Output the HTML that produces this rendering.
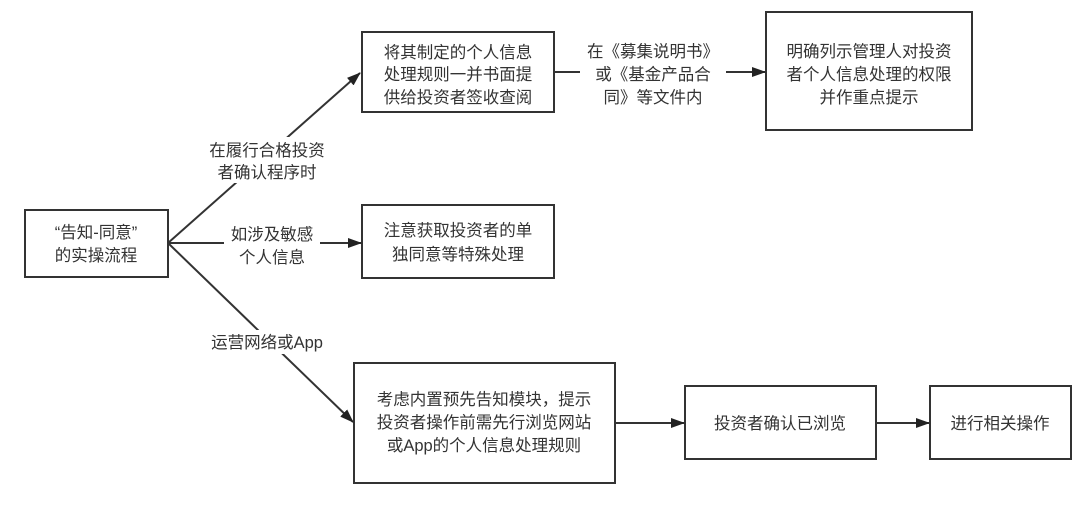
<!DOCTYPE html>
<html><head><meta charset="utf-8"><style>
html,body{margin:0;padding:0;background:#fff;}
svg text{font-family:"Liberation Sans","Noto Sans CJK SC",sans-serif;font-size:16.5px;fill:#333;text-anchor:middle;}
</style></head><body>
<svg width="1080" height="506" viewBox="0 0 1080 506" xmlns="http://www.w3.org/2000/svg">
<defs><marker id="a" markerWidth="14" markerHeight="10" refX="13" refY="5" orient="auto" markerUnits="userSpaceOnUse"><path d="M0,0 L14,5 L0,10 z" fill="#222"/></marker></defs>
<g fill="none" stroke="#333" stroke-width="2">
<rect x="25" y="210" width="143" height="67"/>
<rect x="362" y="32" width="192" height="80"/>
<rect x="766" y="12" width="206" height="118"/>
<rect x="362" y="205" width="192" height="73"/>
<rect x="354" y="363" width="261" height="120"/>
<rect x="685" y="386" width="191" height="73"/>
<rect x="930" y="386" width="141" height="73"/>
</g>
<g stroke="#333" stroke-width="2" fill="none">
<line x1="168" y1="243" x2="360" y2="73" marker-end="url(#a)"/>
<line x1="168" y1="243" x2="361" y2="243" marker-end="url(#a)"/>
<line x1="168" y1="243" x2="353" y2="422" marker-end="url(#a)"/>
<line x1="554" y1="72" x2="765" y2="72" marker-end="url(#a)"/>
<line x1="615" y1="423" x2="684" y2="423" marker-end="url(#a)"/>
<line x1="876" y1="423" x2="929" y2="423" marker-end="url(#a)"/>
</g>
<g fill="#fff">
<rect x="198" y="137" width="138" height="46"/>
<rect x="224" y="224" width="96" height="42"/>
<rect x="198" y="330" width="138" height="24"/>
<rect x="580" y="40" width="146" height="66"/>
</g>
<text x="96" y="238">“告知-同意”</text><text x="96" y="261">的实操流程</text>
<text x="458" y="58">将其制定的个人信息</text><text x="458" y="80">处理规则一并书面提</text><text x="458" y="103">供给投资者签收查阅</text>
<text x="869" y="57">明确列示管理人对投资</text><text x="869" y="80">者个人信息处理的权限</text><text x="869" y="103">并作重点提示</text>
<text x="653" y="57">在《募集说明书》</text><text x="653" y="80">或《基金产品合</text><text x="653" y="103">同》等文件内</text>
<text x="267" y="156">在履行合格投资</text><text x="267" y="178">者确认程序时</text>
<text x="272" y="240">如涉及敏感</text><text x="272" y="263">个人信息</text>
<text x="267" y="348">运营网络或App</text>
<text x="458" y="236">注意获取投资者的单</text><text x="458" y="260">独同意等特殊处理</text>
<text x="484" y="405">考虑内置预先告知模块，提示</text><text x="484" y="428">投资者操作前需先行浏览网站</text><text x="484" y="451">或App的个人信息处理规则</text>
<text x="780" y="429">投资者确认已浏览</text>
<text x="1000" y="429">进行相关操作</text>
</svg>
</body></html>
